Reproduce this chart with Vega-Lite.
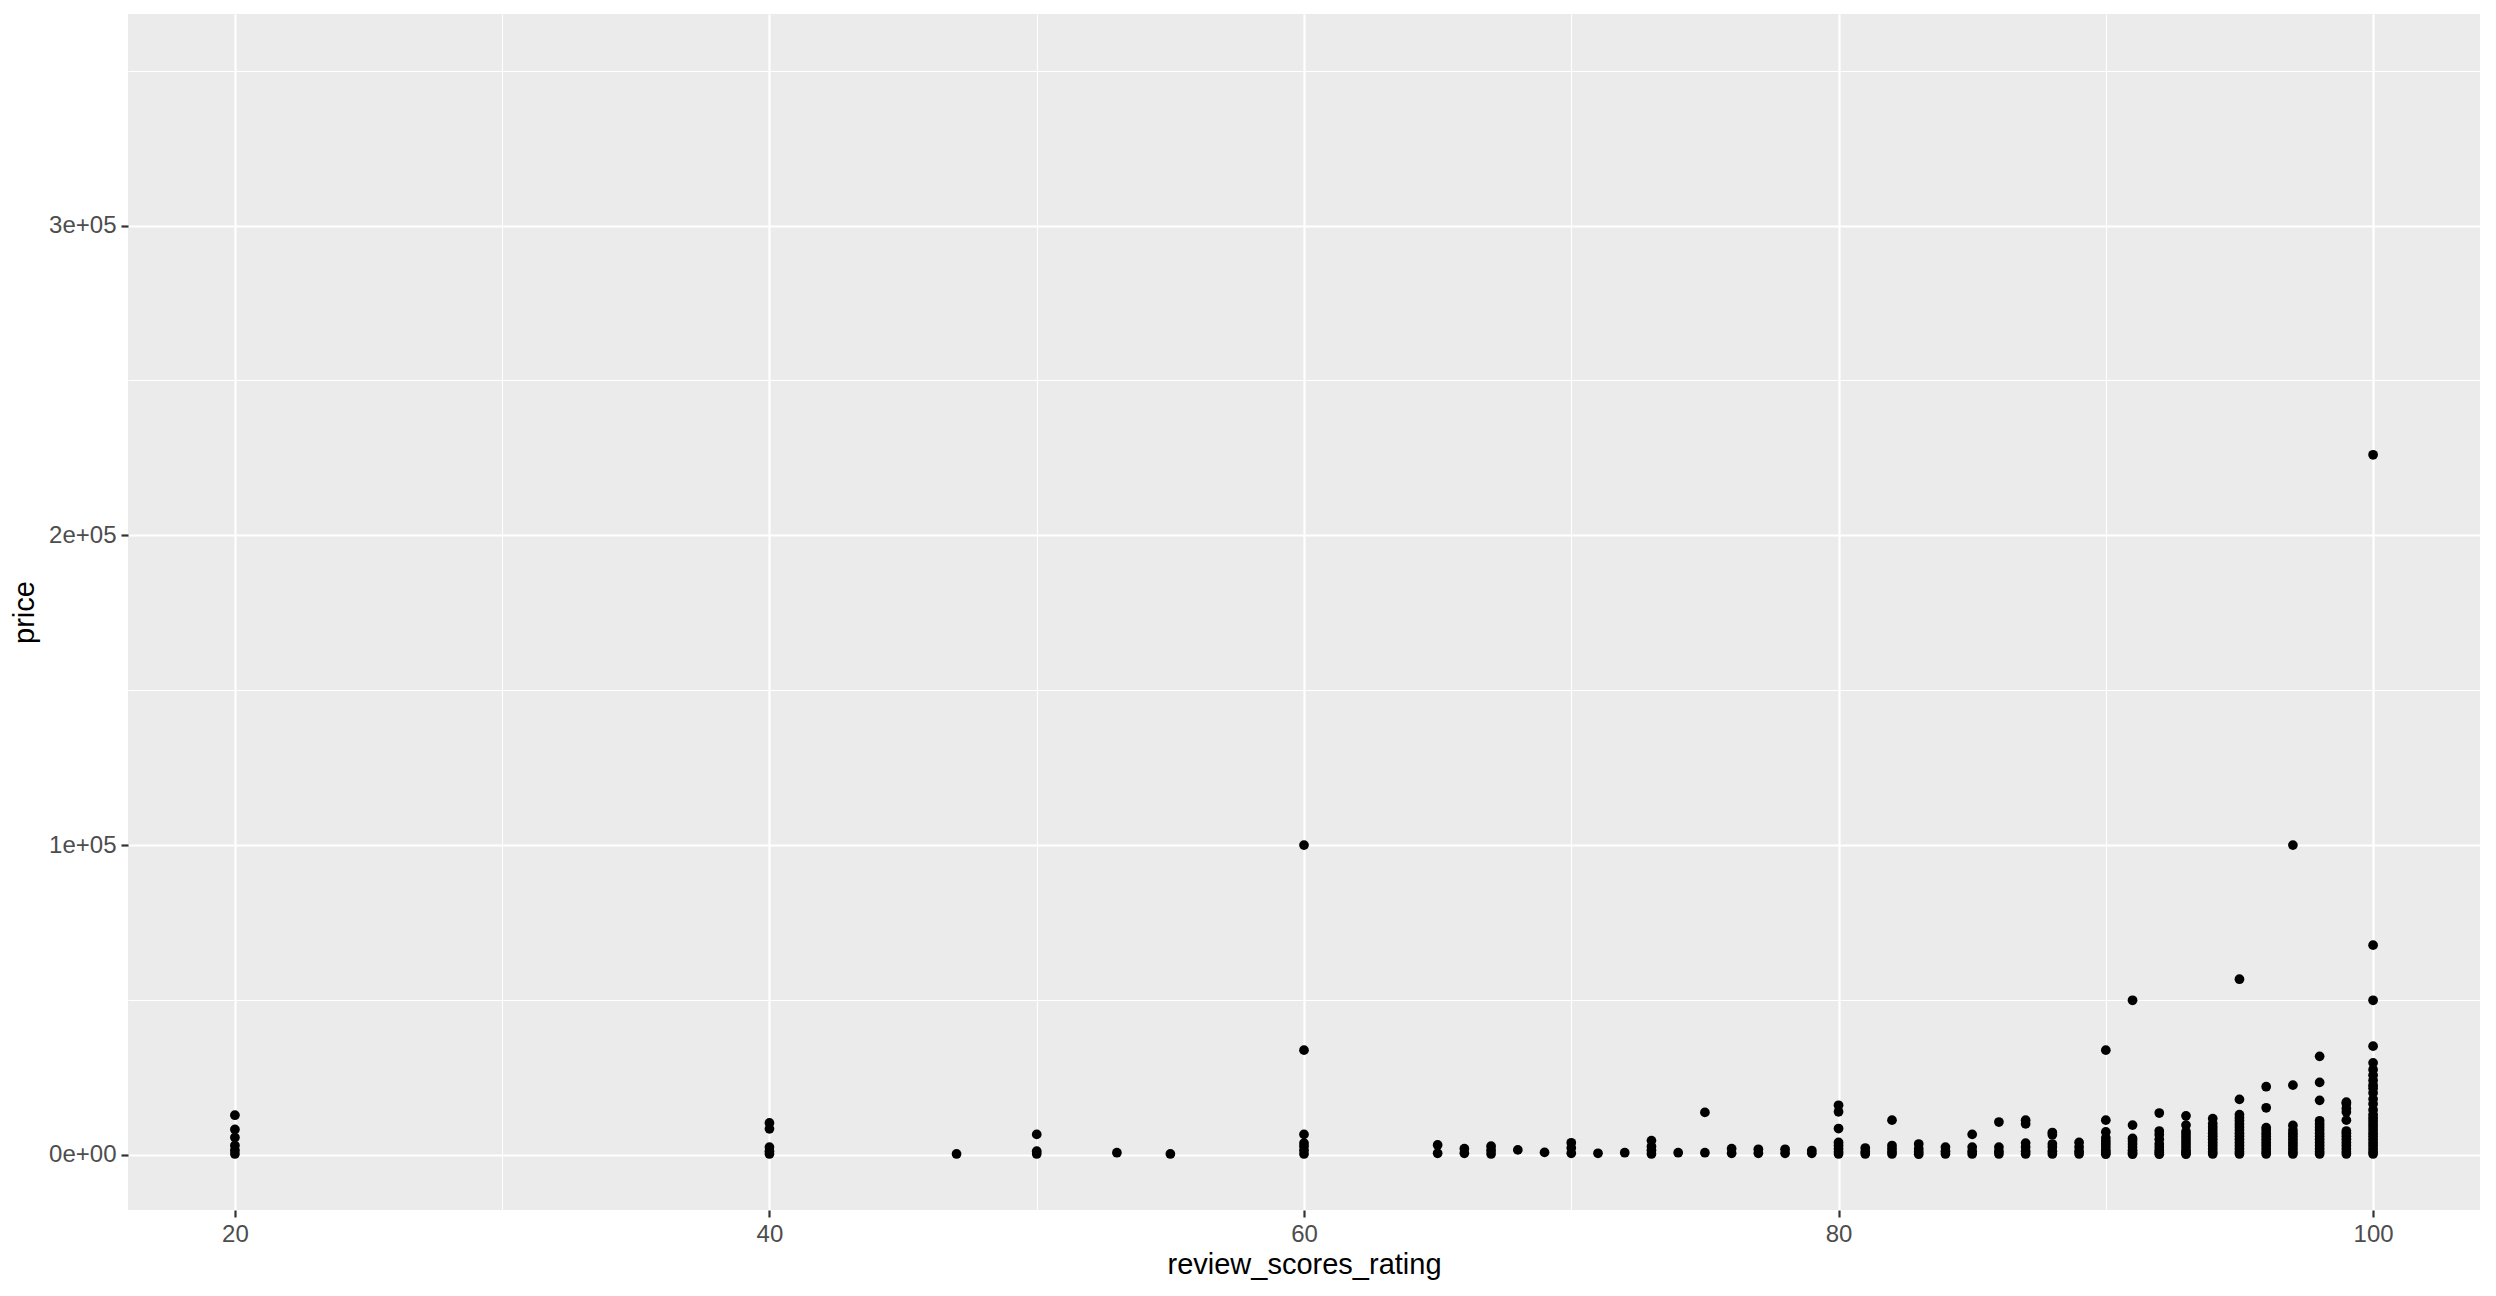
{
  "$schema": "https://vega.github.io/schema/vega-lite/v6.json",
  "width": 2352,
  "height": 1196,
  "autosize": {"type": "none"},
  "padding": {"left": 128, "top": 14, "right": 16, "bottom": 86},
  "background": "white",
  "config": {
    "view": {"fill": "#EBEBEB", "stroke": null},
    "font": "Liberation Sans",
    "axis": {
      "domain": false,
      "gridColor": "white",
      "tickColor": "#333333",
      "labelColor": "#4D4D4D",
      "labelFont": "Liberation Sans",
      "titleFont": "Liberation Sans",
      "titleColor": "black",
      "titleFontWeight": "normal"
    }
  },
  "datasets": {
    "pts": [
      {"review_scores_rating": 20, "price": 300}, {"review_scores_rating": 20, "price": 1500}, {"review_scores_rating": 20, "price": 3000}, {"review_scores_rating": 20, "price": 5600}, {"review_scores_rating": 20, "price": 8200}, {"review_scores_rating": 20, "price": 12800},
      {"review_scores_rating": 40, "price": 300}, {"review_scores_rating": 40, "price": 1200}, {"review_scores_rating": 40, "price": 2500}, {"review_scores_rating": 40, "price": 8400}, {"review_scores_rating": 40, "price": 10300},
      {"review_scores_rating": 47, "price": 300},
      {"review_scores_rating": 50, "price": 300}, {"review_scores_rating": 50, "price": 1200}, {"review_scores_rating": 50, "price": 6600},
      {"review_scores_rating": 53, "price": 700},
      {"review_scores_rating": 55, "price": 300},
      {"review_scores_rating": 60, "price": 300}, {"review_scores_rating": 60, "price": 1500}, {"review_scores_rating": 60, "price": 2800}, {"review_scores_rating": 60, "price": 3800}, {"review_scores_rating": 60, "price": 6600}, {"review_scores_rating": 60, "price": 33800}, {"review_scores_rating": 60, "price": 100000},
      {"review_scores_rating": 65, "price": 500}, {"review_scores_rating": 65, "price": 3200},
      {"review_scores_rating": 66, "price": 500}, {"review_scores_rating": 66, "price": 2000},
      {"review_scores_rating": 67, "price": 300}, {"review_scores_rating": 67, "price": 1500}, {"review_scores_rating": 67, "price": 2800},
      {"review_scores_rating": 68, "price": 1600},
      {"review_scores_rating": 69, "price": 800},
      {"review_scores_rating": 70, "price": 500}, {"review_scores_rating": 70, "price": 2200}, {"review_scores_rating": 70, "price": 3900},
      {"review_scores_rating": 71, "price": 500},
      {"review_scores_rating": 72, "price": 700},
      {"review_scores_rating": 73, "price": 300}, {"review_scores_rating": 73, "price": 1500}, {"review_scores_rating": 73, "price": 2700}, {"review_scores_rating": 73, "price": 4600},
      {"review_scores_rating": 74, "price": 700},
      {"review_scores_rating": 75, "price": 700}, {"review_scores_rating": 75, "price": 13700},
      {"review_scores_rating": 76, "price": 500}, {"review_scores_rating": 76, "price": 2000},
      {"review_scores_rating": 77, "price": 500}, {"review_scores_rating": 77, "price": 1800},
      {"review_scores_rating": 78, "price": 500}, {"review_scores_rating": 78, "price": 1800},
      {"review_scores_rating": 79, "price": 500}, {"review_scores_rating": 79, "price": 1400},
      {"review_scores_rating": 80, "price": 300}, {"review_scores_rating": 80, "price": 1000}, {"review_scores_rating": 80, "price": 2000}, {"review_scores_rating": 80, "price": 3000}, {"review_scores_rating": 80, "price": 4000}, {"review_scores_rating": 80, "price": 8500}, {"review_scores_rating": 80, "price": 13900}, {"review_scores_rating": 80, "price": 16000},
      {"review_scores_rating": 81, "price": 300}, {"review_scores_rating": 81, "price": 1000}, {"review_scores_rating": 81, "price": 2200},
      {"review_scores_rating": 82, "price": 300}, {"review_scores_rating": 82, "price": 1000}, {"review_scores_rating": 82, "price": 2000}, {"review_scores_rating": 82, "price": 3000}, {"review_scores_rating": 82, "price": 11200},
      {"review_scores_rating": 83, "price": 200}, {"review_scores_rating": 83, "price": 1000}, {"review_scores_rating": 83, "price": 2000}, {"review_scores_rating": 83, "price": 3500},
      {"review_scores_rating": 84, "price": 300}, {"review_scores_rating": 84, "price": 1200}, {"review_scores_rating": 84, "price": 2500},
      {"review_scores_rating": 85, "price": 300}, {"review_scores_rating": 85, "price": 1200}, {"review_scores_rating": 85, "price": 2500}, {"review_scores_rating": 85, "price": 6600},
      {"review_scores_rating": 86, "price": 300}, {"review_scores_rating": 86, "price": 1200}, {"review_scores_rating": 86, "price": 2500}, {"review_scores_rating": 86, "price": 10600},
      {"review_scores_rating": 87, "price": 300}, {"review_scores_rating": 87, "price": 1200}, {"review_scores_rating": 87, "price": 2500}, {"review_scores_rating": 87, "price": 3800}, {"review_scores_rating": 87, "price": 10000}, {"review_scores_rating": 87, "price": 11200},
      {"review_scores_rating": 88, "price": 300}, {"review_scores_rating": 88, "price": 1200}, {"review_scores_rating": 88, "price": 2500}, {"review_scores_rating": 88, "price": 3500}, {"review_scores_rating": 88, "price": 6500}, {"review_scores_rating": 88, "price": 7200},
      {"review_scores_rating": 89, "price": 300}, {"review_scores_rating": 89, "price": 1200}, {"review_scores_rating": 89, "price": 2500}, {"review_scores_rating": 89, "price": 4000},
      {"review_scores_rating": 90, "price": 200}, {"review_scores_rating": 90, "price": 800}, {"review_scores_rating": 90, "price": 1500}, {"review_scores_rating": 90, "price": 2500}, {"review_scores_rating": 90, "price": 3500}, {"review_scores_rating": 90, "price": 4500}, {"review_scores_rating": 90, "price": 5500}, {"review_scores_rating": 90, "price": 7400}, {"review_scores_rating": 90, "price": 11200}, {"review_scores_rating": 90, "price": 33800},
      {"review_scores_rating": 91, "price": 200}, {"review_scores_rating": 91, "price": 800}, {"review_scores_rating": 91, "price": 1500}, {"review_scores_rating": 91, "price": 2500}, {"review_scores_rating": 91, "price": 3500}, {"review_scores_rating": 91, "price": 4500}, {"review_scores_rating": 91, "price": 5300}, {"review_scores_rating": 91, "price": 9600}, {"review_scores_rating": 91, "price": 49900},
      {"review_scores_rating": 92, "price": 200}, {"review_scores_rating": 92, "price": 800}, {"review_scores_rating": 92, "price": 1500}, {"review_scores_rating": 92, "price": 2500}, {"review_scores_rating": 92, "price": 3500}, {"review_scores_rating": 92, "price": 5000}, {"review_scores_rating": 92, "price": 6500}, {"review_scores_rating": 92, "price": 7700}, {"review_scores_rating": 92, "price": 13500},
      {"review_scores_rating": 93, "price": 200}, {"review_scores_rating": 93, "price": 800}, {"review_scores_rating": 93, "price": 1500}, {"review_scores_rating": 93, "price": 2500}, {"review_scores_rating": 93, "price": 3500}, {"review_scores_rating": 93, "price": 4500}, {"review_scores_rating": 93, "price": 5500}, {"review_scores_rating": 93, "price": 6500}, {"review_scores_rating": 93, "price": 7500}, {"review_scores_rating": 93, "price": 9600}, {"review_scores_rating": 93, "price": 12600},
      {"review_scores_rating": 94, "price": 300}, {"review_scores_rating": 94, "price": 1000}, {"review_scores_rating": 94, "price": 2000}, {"review_scores_rating": 94, "price": 3000}, {"review_scores_rating": 94, "price": 4000}, {"review_scores_rating": 94, "price": 5000}, {"review_scores_rating": 94, "price": 6000}, {"review_scores_rating": 94, "price": 7000}, {"review_scores_rating": 94, "price": 8000}, {"review_scores_rating": 94, "price": 9000}, {"review_scores_rating": 94, "price": 10100}, {"review_scores_rating": 94, "price": 11700},
      {"review_scores_rating": 95, "price": 300}, {"review_scores_rating": 95, "price": 1000}, {"review_scores_rating": 95, "price": 2000}, {"review_scores_rating": 95, "price": 3000}, {"review_scores_rating": 95, "price": 4000}, {"review_scores_rating": 95, "price": 5000}, {"review_scores_rating": 95, "price": 6000}, {"review_scores_rating": 95, "price": 7000}, {"review_scores_rating": 95, "price": 8000}, {"review_scores_rating": 95, "price": 9000}, {"review_scores_rating": 95, "price": 10000}, {"review_scores_rating": 95, "price": 11000}, {"review_scores_rating": 95, "price": 12000}, {"review_scores_rating": 95, "price": 13000}, {"review_scores_rating": 95, "price": 17900}, {"review_scores_rating": 95, "price": 56700},
      {"review_scores_rating": 96, "price": 300}, {"review_scores_rating": 96, "price": 1000}, {"review_scores_rating": 96, "price": 2000}, {"review_scores_rating": 96, "price": 3000}, {"review_scores_rating": 96, "price": 4000}, {"review_scores_rating": 96, "price": 5000}, {"review_scores_rating": 96, "price": 6000}, {"review_scores_rating": 96, "price": 7000}, {"review_scores_rating": 96, "price": 8000}, {"review_scores_rating": 96, "price": 8800}, {"review_scores_rating": 96, "price": 15200}, {"review_scores_rating": 96, "price": 22000},
      {"review_scores_rating": 97, "price": 300}, {"review_scores_rating": 97, "price": 1000}, {"review_scores_rating": 97, "price": 2000}, {"review_scores_rating": 97, "price": 3000}, {"review_scores_rating": 97, "price": 4000}, {"review_scores_rating": 97, "price": 5000}, {"review_scores_rating": 97, "price": 6000}, {"review_scores_rating": 97, "price": 7000}, {"review_scores_rating": 97, "price": 8000}, {"review_scores_rating": 97, "price": 9500}, {"review_scores_rating": 97, "price": 22500}, {"review_scores_rating": 97, "price": 100000},
      {"review_scores_rating": 98, "price": 300}, {"review_scores_rating": 98, "price": 1000}, {"review_scores_rating": 98, "price": 2000}, {"review_scores_rating": 98, "price": 3000}, {"review_scores_rating": 98, "price": 4000}, {"review_scores_rating": 98, "price": 5000}, {"review_scores_rating": 98, "price": 6000}, {"review_scores_rating": 98, "price": 7000}, {"review_scores_rating": 98, "price": 8000}, {"review_scores_rating": 98, "price": 9000}, {"review_scores_rating": 98, "price": 10000}, {"review_scores_rating": 98, "price": 11000}, {"review_scores_rating": 98, "price": 17600}, {"review_scores_rating": 98, "price": 23400}, {"review_scores_rating": 98, "price": 31800},
      {"review_scores_rating": 99, "price": 300}, {"review_scores_rating": 99, "price": 1000}, {"review_scores_rating": 99, "price": 2000}, {"review_scores_rating": 99, "price": 3000}, {"review_scores_rating": 99, "price": 4000}, {"review_scores_rating": 99, "price": 5000}, {"review_scores_rating": 99, "price": 6000}, {"review_scores_rating": 99, "price": 7000}, {"review_scores_rating": 99, "price": 7700}, {"review_scores_rating": 99, "price": 11200}, {"review_scores_rating": 99, "price": 13800}, {"review_scores_rating": 99, "price": 15000}, {"review_scores_rating": 99, "price": 16500}, {"review_scores_rating": 99, "price": 17000},
      {"review_scores_rating": 100, "price": 300}, {"review_scores_rating": 100, "price": 1000}, {"review_scores_rating": 100, "price": 2000}, {"review_scores_rating": 100, "price": 3000}, {"review_scores_rating": 100, "price": 4000}, {"review_scores_rating": 100, "price": 5000}, {"review_scores_rating": 100, "price": 6000}, {"review_scores_rating": 100, "price": 7000}, {"review_scores_rating": 100, "price": 8000}, {"review_scores_rating": 100, "price": 9000}, {"review_scores_rating": 100, "price": 10000}, {"review_scores_rating": 100, "price": 11000}, {"review_scores_rating": 100, "price": 12000}, {"review_scores_rating": 100, "price": 13000}, {"review_scores_rating": 100, "price": 14500}, {"review_scores_rating": 100, "price": 16400}, {"review_scores_rating": 100, "price": 18000}, {"review_scores_rating": 100, "price": 20000}, {"review_scores_rating": 100, "price": 21500}, {"review_scores_rating": 100, "price": 22500}, {"review_scores_rating": 100, "price": 24000}, {"review_scores_rating": 100, "price": 25700}, {"review_scores_rating": 100, "price": 27500}, {"review_scores_rating": 100, "price": 29700}, {"review_scores_rating": 100, "price": 35100}, {"review_scores_rating": 100, "price": 49900}, {"review_scores_rating": 100, "price": 67700}, {"review_scores_rating": 100, "price": 226000}
    ]
  },
  "data": {"name": "pts"},
  "layer": [
    {
      "mark": {"type": "point", "opacity": 0},
      "encoding": {
        "x": {
          "field": "review_scores_rating", "type": "quantitative",
          "scale": {"domain": [16, 104], "nice": false, "zero": false},
          "axis": {"orient": "bottom", "values": [30, 50, 70, 90], "grid": true, "gridWidth": 1.1, "labels": false, "ticks": false, "title": null}
        },
        "y": {
          "field": "price", "type": "quantitative",
          "scale": {"domain": [-17800, 368300], "nice": false, "zero": false},
          "axis": {"orient": "left", "values": [50000, 150000, 250000, 350000], "grid": true, "gridWidth": 1.1, "labels": false, "ticks": false, "title": null}
        }
      }
    },
    {
      "mark": {"type": "circle", "size": 95, "color": "black", "opacity": 1},
      "encoding": {
        "x": {
          "field": "review_scores_rating", "type": "quantitative",
          "axis": {
            "orient": "bottom", "values": [20, 40, 60, 80, 100], "grid": true, "gridWidth": 2.2,
            "tickSize": 7, "tickWidth": 2.2, "labelFontSize": 24, "labelPadding": 5,
            "title": "review_scores_rating", "titleFontSize": 29, "titlePadding": 4
          }
        },
        "y": {
          "field": "price", "type": "quantitative",
          "axis": {
            "orient": "left", "values": [0, 100000, 200000, 300000], "grid": true, "gridWidth": 2.2,
            "tickSize": 7, "tickWidth": 2.2, "labelFontSize": 24, "labelPadding": 5,
            "labelExpr": "replace(format(datum.value, '.0e'), 'e+', 'e+0')",
            "title": "price", "titleFontSize": 29, "titlePadding": 9
          }
        }
      }
    }
  ],
  "resolve": {"axis": {"x": "independent", "y": "independent"}}
}
